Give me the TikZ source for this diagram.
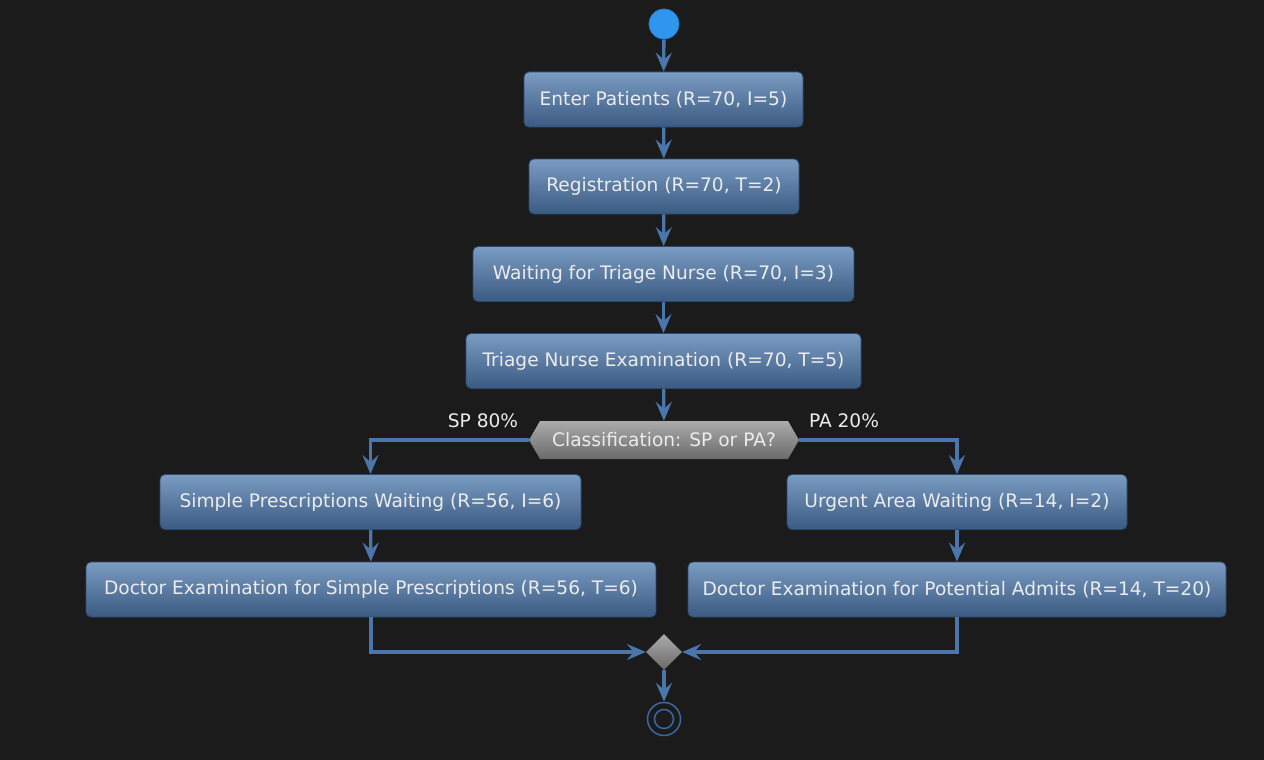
\documentclass[tikz,border=0pt]{standalone}
\usepackage{fontspec}
\setmainfont{DejaVu Sans}
\usetikzlibrary{shapes.geometric,shapes.symbols,arrows.meta}
\definecolor{bg}{HTML}{1B1B1B}
\definecolor{boxtop}{HTML}{7A9BC2}
\definecolor{boxbot}{HTML}{3A5A82}
\definecolor{boxline}{HTML}{2C4A6E}
\definecolor{arr}{HTML}{4A76AC}
\definecolor{endc}{HTML}{3A68A0}
\definecolor{txt}{HTML}{ECECEC}
\definecolor{startfill}{HTML}{2E96EC}
\definecolor{startline}{HTML}{2A78C0}
\definecolor{hextop}{HTML}{ABABAB}
\definecolor{hexbot}{HTML}{6A6A6A}
\begin{document}
\begin{tikzpicture}[x=1pt,y=-1pt,
  basefont/.style={font=\fontsize{18.6}{22}\selectfont},
  act/.style={rectangle, rounded corners=5pt, top color=boxtop, bottom color=boxbot,
    draw=boxline, line width=0.8pt, text=txt, basefont, minimum height=55pt,
    inner xsep=4pt},
  hexa/.style={signal, signal to=west and east, signal pointer angle=120,
    top color=hextop, bottom color=hexbot, draw=none, text=txt, basefont,
    minimum width=270pt, minimum height=38pt, inner sep=0pt},
  merge/.style={diamond, top color=hextop, bottom color=hexbot, draw=none,
    minimum width=36pt, minimum height=36pt, inner sep=0pt},
  lbl/.style={text=txt, basefont, inner sep=0pt},
  flow/.style={draw=arr, line width=3.3pt, -{Stealth[length=19pt,width=16pt,inset=7pt]}}
]
\fill[bg] (0,0) rectangle (1264,760);
\node[circle, fill=startfill, draw=startline, line width=0.8pt, minimum size=30pt, inner sep=0pt] (start) at (664,24) {};
\node[act, minimum width=279pt] (a1) at (663.5,99.5) {Enter Patients (R=70, I=5)};
\node[act, minimum width=270pt] (a2) at (664,186.5) {Registration (R=70, T=2)};
\node[act, minimum width=381pt] (a3) at (663.5,274) {Waiting for Triage Nurse (R=70, I=3)};
\node[act, minimum width=395pt] (a4) at (663.5,361) {Triage Nurse Examination (R=70, T=5)};
\node[hexa] (hex) at (664,440) {Classification: SP or PA?};
\node[lbl] (sp) at (483,421) {SP 80\%};
\node[lbl] (pa) at (844,421) {PA 20\%};
\node[act, minimum width=421pt] (b1) at (370.5,502) {Simple Prescriptions Waiting (R=56, I=6)};
\node[act, minimum width=570pt] (b2) at (371,589.5) {Doctor Examination for Simple Prescriptions (R=56, T=6)};
\node[act, minimum width=340pt] (c1) at (957,502) {Urgent Area Waiting (R=14, I=2)};
\node[act, minimum width=538pt] (c2) at (957,589.5) {Doctor Examination for Potential Admits (R=14, T=20)};
\node[merge] (m) at (664,652) {};
\node[circle, draw=endc, fill=bg, line width=1.5pt, minimum size=33pt, inner sep=0pt] (end) at (664,719) {};
\node[circle, draw=endc, line width=1.5pt, minimum size=19pt, inner sep=0pt] (endin) at (end.center) {};
\draw[flow] (start) -- (a1);
\draw[flow] (a1) -- (a2);
\draw[flow] (a2) -- (a3);
\draw[flow] (a3) -- (a4);
\draw[flow] (a4) -- (hex);
\draw[flow] (hex.west) -| (b1.north);
\draw[flow] (hex.east) -| (c1.north);
\draw[flow] (b1) -- (b2);
\draw[flow] (c1) -- (c2);
\draw[flow] (b2.south) |- (m.west);
\draw[flow] (c2.south) |- (m.east);
\draw[flow] (m) -- (end);
\end{tikzpicture}
\end{document}
